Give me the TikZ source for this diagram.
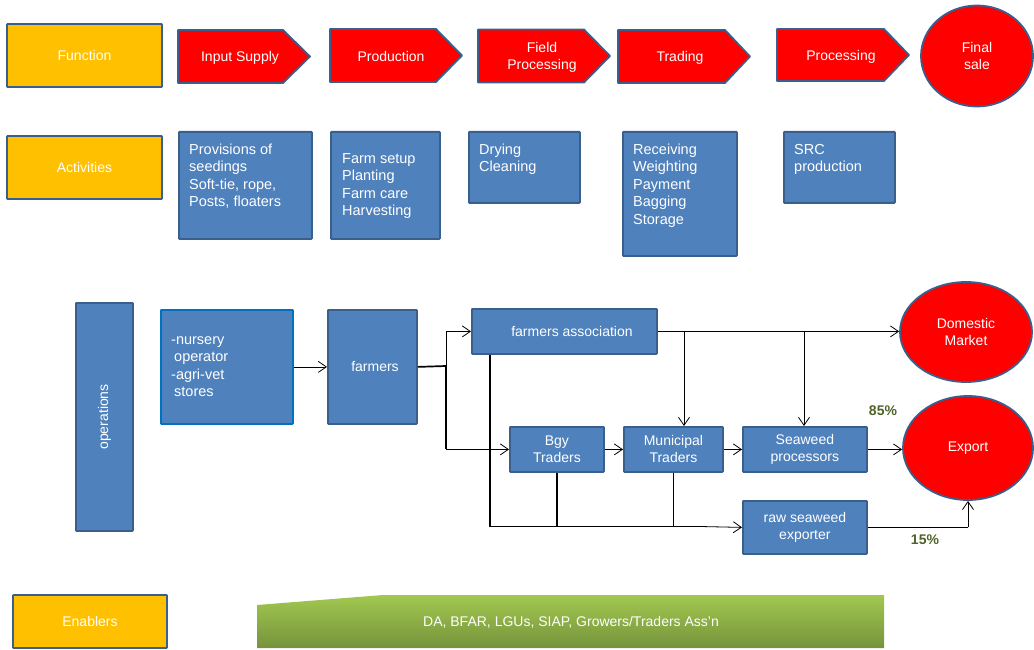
\documentclass[tikz,border=0pt]{standalone}
\usepackage{fontspec}
\setmainfont{Liberation Sans}
\usetikzlibrary{arrows.meta,shapes.geometric}

\definecolor{boxblue}{HTML}{4F81BD}
\definecolor{edgeblue}{HTML}{3A5F8C}
\definecolor{fnyellow}{HTML}{FFC000}
\definecolor{fnred}{HTML}{FF0000}
\definecolor{brightblue}{HTML}{0070C0}
\definecolor{pctgreen}{HTML}{4F6228}
\definecolor{greentop}{HTML}{A2C850}
\definecolor{greenbot}{HTML}{76933C}

\begin{document}
\begin{tikzpicture}[x=1pt,y=-1pt,
  txt/.style={text=white, inner sep=0pt, font=\fontsize{14}{17}\selectfont, align=center},
  acttxt/.style={text=white, inner sep=0pt, font=\fontsize{14.5}{17.5}\selectfont, align=left, anchor=north west},
  fnbox/.style={draw=edgeblue, line width=1.8pt, fill=fnyellow, rounded corners=0.6pt, inner sep=0pt, txt},
  chevron/.style={draw=edgeblue, line width=1.8pt, fill=fnred, line join=round},
  oval/.style={ellipse, draw=edgeblue, line width=1.8pt, fill=fnred, inner sep=0pt, txt},
  blk/.style={draw=edgeblue, line width=1.8pt, fill=boxblue, rounded corners=0.6pt, inner sep=0pt, txt},
  actbox/.style={blk, anchor=north west},
  link/.style={line width=0.8pt, black},
  bold/.style={line width=1.7pt, black},
  arr/.style={link, -{Straight Barb[length=8pt,width=11pt]}},
  pct/.style={text=pctgreen, font=\fontsize{14}{17}\selectfont\bfseries, inner sep=0pt}
]
\useasboundingbox (0,0) rectangle (1034,650);

% ---------- Function row ----------
\node[fnbox, minimum width=155, minimum height=63] (function) at (84.5,55.5) {Function};

\draw[chevron] (178,30) -- (283,30) -- (310,56.5) -- (283,83) -- (178,83) -- cycle;
\node[txt] (input) at (240,57.5) {Input Supply};
\draw[chevron] (330,29) -- (436,29) -- (462,55.5) -- (436,82) -- (330,82) -- cycle;
\node[txt] (production) at (391,56) {Production};
\draw[chevron] (478,29.5) -- (584,29.5) -- (610,56) -- (584,82.5) -- (478,82.5) -- cycle;
\node[txt] (fieldproc) at (542,57) {Field\\Processing};
\draw[chevron] (618,30) -- (725,30) -- (750,56.5) -- (725,83) -- (618,83) -- cycle;
\node[txt] (trading) at (680,57.5) {Trading};
\draw[chevron] (777,29) -- (884,29) -- (909,55) -- (884,81) -- (777,81) -- cycle;
\node[txt] (processing) at (841,56.5) {Processing};
\node[oval, minimum width=112, minimum height=101] (finalsale) at (977,56) {Final\\sale};

% ---------- Activities row ----------
\node[fnbox, minimum width=155, minimum height=63] (activities) at (84.5,167.5) {Activities};

\node[actbox, minimum width=133, minimum height=107] (act1) at (178,131) {};
\node[acttxt] (act1t) at (189,141.75) {\strut Provisions of\\seedings\\Soft-tie, rope,\\Posts, floaters};
\node[actbox, minimum width=109, minimum height=107] (act2) at (330,131) {};
\node[acttxt] (act2t) at (342,150.75) {\strut Farm setup\\Planting\\Farm care\\Harvesting};
\node[actbox, minimum width=111, minimum height=71] (act3) at (468,131) {};
\node[acttxt] (act3t) at (479,141.75) {\strut Drying\\Cleaning};
\node[actbox, minimum width=114, minimum height=124] (act4) at (622,131) {};
\node[acttxt] (act4t) at (633,141.75) {\strut Receiving\\Weighting\\Payment\\Bagging\\Storage};
\node[actbox, minimum width=111, minimum height=71] (act5) at (783,131) {};
\node[acttxt] (act5t) at (794,141.75) {\strut SRC\\production};

% ---------- Operations ----------
\node[blk, anchor=north west, minimum width=57, minimum height=228] (operations) at (75,302) {};
\node[txt, rotate=90] (opst) at (operations.center) {operations};

\node[blk, draw=brightblue, anchor=north west, minimum width=132, minimum height=114] (nursery) at (160,309) {};
\node[acttxt] (nurseryt) at (171,331.75) {\strut -nursery\\\hspace*{3pt}operator\\-agri-vet\\\hspace*{3pt}stores};

\node[blk, anchor=north west, minimum width=89, minimum height=114] (farmers) at (327,309) {};
\node[txt] (farmerst) at (375,366.5) {farmers};

\node[blk, anchor=north west, minimum width=185, minimum height=45] (assoc) at (471,308) {};
\node[txt] (assoct) at (572,331.5) {farmers association};

\node[blk, anchor=north west, minimum width=94, minimum height=45] (bgy) at (509,426) {Bgy\\Traders};
\node[blk, anchor=north west, minimum width=99, minimum height=45] (muni) at (623,426) {Municipal\\Traders};
\node[blk, anchor=north west, minimum width=124, minimum height=45] (proc) at (742,426) {Seaweed\\processors};
\node[blk, anchor=north west, minimum width=124, minimum height=53] (raw) at (742,500) {raw seaweed\\exporter};

\node[oval, minimum width=132, minimum height=100] (domestic) at (966,332) {Domestic\\Market};
\node[oval, minimum width=130, minimum height=104] (export) at (968,448) {Export};

\node[pct] (p85) at (883,411) {85\%};
\node[pct] (p15) at (925,540) {15\%};

% ---------- connectors ----------
\coordinate (split) at (446,366);
\coordinate (dropA) at (684,331);
\coordinate (dropB) at (804,331);
\coordinate (low) at (490,526.5);

\draw[arr] (nursery.east) -- (farmers.west);
\draw[bold] (farmers.east) -- (split);
\draw[arr] (split) |- (assoc.west);
\draw[bold] (split) -- (split |- bgy.west);
\draw[arr] (split |- bgy.west) -- (bgy.west);

\draw[arr] (assoc.east) -- (assoc.east -| domestic.west);
\draw[arr] (dropA) -- (dropA |- muni.north);
\draw[arr] (dropB) -- (dropB |- proc.north);

\draw[arr] (bgy.east) -- (muni.west);
\draw[arr] (muni.east) -- (proc.west);
\draw[arr] (proc.east) -- (proc.east -| export.west);

\draw[bold] (assoc.south -| low) -- (low);
\draw[bold] (bgy.south) -- (bgy.south |- low);
\draw[bold] (muni.south) -- (muni.south |- low);
\draw[bold] (low) -- (low -| 700,0);
\draw[arr] (low -| 700,0) -- (raw.west);
\draw[bold] (raw.east) -- (raw.east -| export.south);
\draw[arr] (raw.east -| export.south) -- (export.south);

% ---------- Enablers ----------
\node[fnbox, minimum width=154, minimum height=53] (enablers) at (90,621.5) {Enablers};
\shade[top color=greentop, bottom color=greenbot] (257,605) -- (383,595) -- (884,595) -- (884,648) -- (257,648) -- cycle;
\node[txt] (enablerst) at (571,622) {DA, BFAR, LGUs, SIAP, Growers/Traders Ass’n};
\end{tikzpicture}
\end{document}
